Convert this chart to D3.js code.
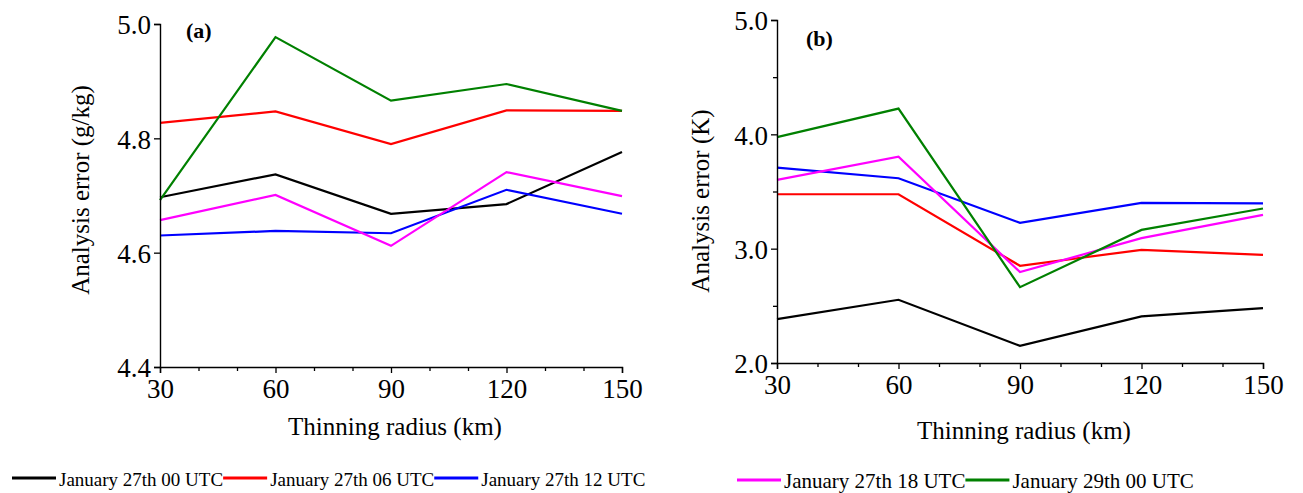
<!DOCTYPE html>
<meta charset="utf-8" />
<style>
  html,
  body {
    margin: 0;
    padding: 0;
    background: #fff;
  }
  text {
    font-family: 'Liberation Serif', 'Times New Roman', serif;
    fill: #000;
  }
</style>
<script src="https://d3js.org/d3.v7.min.js"></script>

<div id="chart"></div>

<script>
  // thinning radius (km), shared x values
  const radius = [30, 60, 90, 120, 150];

  const seriesNames = [
    'January 27th 00 UTC',
    'January 27th 06 UTC',
    'January 27th 12 UTC',
    'January 27th 18 UTC',
    'January 29th 00 UTC',
  ];
  const seriesColors = ['#000000', '#ff0000', '#0000ff', '#ff00ff', '#008000'];

  // (a) humidity analysis error, g/kg
  const humid00 = [4.697, 4.737, 4.668, 4.685, 4.776];
  const humid06 = [4.827, 4.847, 4.79, 4.849, 4.848];
  const humid12 = [4.63, 4.638, 4.634, 4.71, 4.668];
  const humid18 = [4.657, 4.701, 4.612, 4.741, 4.699];
  const humid2900 = [4.692, 4.977, 4.866, 4.895, 4.848];

  // (b) temperature analysis error, K
  const temp00 = [2.384, 2.553, 2.15, 2.407, 2.48];
  const temp06 = [3.476, 3.476, 2.85, 2.99, 2.946];
  const temp12 = [3.709, 3.616, 3.226, 3.4, 3.397];
  const temp18 = [3.601, 3.805, 2.795, 3.092, 3.295];
  const temp2900 = [3.975, 4.225, 2.663, 3.164, 3.351];

  const humidTicks = [4.4, 4.6, 4.8, 5.0];
  const tempTicks = [2.0, 3.0, 4.0, 5.0];
  const tempMinor = [2.5, 3.5, 4.5];
  const radiusTicks = [30, 60, 90, 120, 150];
  const radiusMinor = [40, 50, 70, 80, 100, 110, 130, 140];

  const W = 1303,
    H = 493;

  const svg = d3
    .select('#chart')
    .append('svg')
    .attr('width', W)
    .attr('height', H);

  // draw one panel
  function drawPanel(opt) {
    const x = d3.scaleLinear().domain([30, 150]).range(opt.xr);
    const y = d3.scaleLinear().domain(opt.yd).range(opt.yr);
    const g = svg.append('g');

    // series lines
    const line = d3
      .line()
      .x((d, i) => x(radius[i]))
      .y((d) => y(d));
    opt.series.forEach((s, i) => {
      g.append('path')
        .datum(s)
        .attr('d', line)
        .attr('fill', 'none')
        .attr('stroke', seriesColors[i])
        .attr('stroke-width', 2.2)
        .attr('stroke-linejoin', 'miter');
    });

    // x axis
    const xa = g
      .append('g')
      .attr('transform', 'translate(0,' + opt.yr[0] + ')')
      .call(
        d3
          .axisBottom(x)
          .tickValues(radiusTicks)
          .tickSize(6)
          .tickPadding(6)
          .tickFormat(d3.format('d')),
      );
    g.append('g')
      .attr('transform', 'translate(0,' + opt.yr[0] + ')')
      .call(
        d3.axisBottom(x).tickValues(radiusMinor).tickSize(4).tickFormat(''),
      )
      .select('.domain')
      .remove();

    // y axis
    const ya = g
      .append('g')
      .attr('transform', 'translate(' + opt.xr[0] + ',0)')
      .call(
        d3
          .axisLeft(y)
          .tickValues(opt.yTicks)
          .tickSize(6)
          .tickPadding(3)
          .tickFormat(d3.format('.1f')),
      );
    if (opt.yMinor) {
      g.append('g')
        .attr('transform', 'translate(' + opt.xr[0] + ',0)')
        .call(
          d3.axisLeft(y).tickValues(opt.yMinor).tickSize(4).tickFormat(''),
        )
        .select('.domain')
        .remove();
    }

    g.selectAll('.domain').attr('stroke-width', 1.4);
    g.selectAll('.tick line').attr('stroke-width', 1.3);
    xa.selectAll('text')
      .style('font-family', "'Liberation Serif', serif")
      .style('font-size', '27px');
    ya.selectAll('text')
      .style('font-family', "'Liberation Serif', serif")
      .style('font-size', '27px')
      .attr('dy', '0.36em');

    // axis titles
    g.append('text')
      .attr('x', (opt.xr[0] + opt.xr[1]) / 2 + 4)
      .attr('y', opt.xTitleY)
      .attr('text-anchor', 'middle')
      .style('font-size', '25px')
      .text('Thinning radius (km)');
    g.append('text')
      .attr(
        'transform',
        'translate(' + opt.yTitleX + ',' + opt.yTitleCY + ') rotate(-90)',
      )
      .attr('text-anchor', 'middle')
      .style('font-size', '25px')
      .text(opt.yTitle);

    // panel label
    g.append('text')
      .attr('x', opt.tag[0])
      .attr('y', opt.tag[1])
      .style('font-size', '22px')
      .style('font-weight', 'bold')
      .text(opt.label);
  }

  drawPanel({
    xr: [160, 622],
    yr: [367, 24],
    yd: [4.4, 5.0],
    yTicks: humidTicks,
    series: [humid00, humid06, humid12, humid18, humid2900],
    yTitle: 'Analysis error (g/kg)',
    yTitleX: 89,
    yTitleCY: 190,
    xTitleY: 435,
    label: '(a)',
    tag: [186, 38],
  });

  drawPanel({
    xr: [777, 1263],
    yr: [363, 20],
    yd: [2.0, 5.0],
    yTicks: tempTicks,
    yMinor: tempMinor,
    series: [temp00, temp06, temp12, temp18, temp2900],
    yTitle: 'Analysis error (K)',
    yTitleX: 709,
    yTitleCY: 201,
    xTitleY: 439,
    label: '(b)',
    tag: [806, 46],
  });

  // legends: line segment followed by label, entries packed side by side
  function drawLegend(idx, x0, yLine, yText, fontSize) {
    const lg = svg.append('g');
    let cx = x0;
    idx.forEach((i) => {
      lg.append('line')
        .attr('x1', cx)
        .attr('x2', cx + 44)
        .attr('y1', yLine)
        .attr('y2', yLine)
        .attr('stroke', seriesColors[i])
        .attr('stroke-width', 3);
      const t = lg
        .append('text')
        .attr('x', cx + 47)
        .attr('y', yText)
        .style('font-size', fontSize + 'px')
        .text(seriesNames[i]);
      cx = cx + 47 + t.node().getComputedTextLength();
    });
  }

  drawLegend([0, 1, 2], 12, 478, 486, 19);
  drawLegend([3, 4], 737, 480, 488, 21);
</script>
